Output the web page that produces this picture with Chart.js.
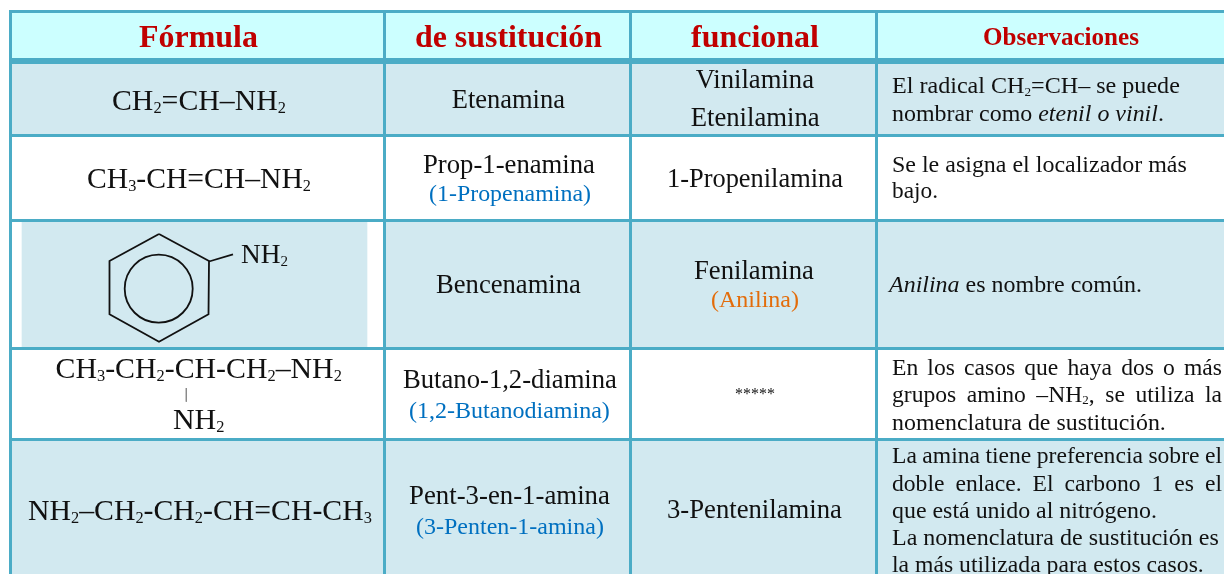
<!DOCTYPE html>
<html lang="es">
<head>
<meta charset="utf-8">
<title>Nomenclatura de aminas</title>
<style>
  html, body { margin: 0; padding: 0; background: #fff; overflow: hidden; }
  canvas { display: block; }
</style>
<script src="https://cdn.jsdelivr.net/npm/chart.js@4"></script>
</head>
<body>
<canvas id="tabla" width="1224" height="574"></canvas>
<script>
/* global Chart */
// ── Tabla de aminas dibujada sobre ejes lineales de Chart.js ──

// Bordes de la tabla, en unidades de los ejes
const colEdges = [10.5, 384.5, 630.5, 877];
const rowEdges = [11.5, 61, 135.5, 220.5, 348.5, 439.5, 574];
const headerEdge = 61;

// Marcas: bandas de color de cada fila
const bandRow = [0, 1, 3, 3, 5];
const bandFrom = [10.5, 10.5, 22, 384.5, 10.5];
const bandTo = [1224, 1224, 367, 1224, 1224];

// Anillo de benceno
const ringX = [159, 209, 208.5, 159, 109.5, 109.5, 159];
const ringY = [234, 261, 314.3, 341.7, 314.3, 261, 234];
const ringCenterX = [158.7];
const ringCenterY = [288.7];
const bondX = [209, 233];
const bondY = [261.5, 254.3];
const branchX = [186.3, 186.3];
const branchY = [388, 401.7];

// Textos. _n = subíndice, *x* = cursiva
const headers = ['Fórmula', 'de sustitución', 'funcional', 'Observaciones'];
const formulas = ['CH_2=CH–NH_2', 'CH_3-CH=CH–NH_2', 'NH_2', 'CH_3-CH_2-CH-CH_2–NH_2', 'NH_2', 'NH_2–CH_2-CH_2-CH=CH-CH_3'];
const sustitucion = ['Etenamina', 'Prop-1-enamina', 'Bencenamina', 'Butano-1,2-diamina', 'Pent-3-en-1-amina'];
const sustitucionAlt = ['(1-Propenamina)', '(1,2-Butanodiamina)', '(3-Penten-1-amina)'];
const funcional = ['Vinilamina', 'Etenilamina', '1-Propenilamina', 'Fenilamina', '3-Pentenilamina'];
const funcionalAlt = ['(Anilina)'];
const sinNombre = ['*****'];
const observaciones = [
  'El radical CH_2=CH– se puede',
  'nombrar como *etenil o vinil*.',
  'Se le asigna el localizador más',
  'bajo.',
  '*Anilina* es nombre común.',
  'En los casos que haya dos o más',
  'grupos amino –NH_2, se utiliza la',
  'nomenclatura de sustitución.',
  'La amina tiene preferencia sobre el',
  'doble enlace. El carbono 1 es el',
  'que está unido al nitrógeno.',
  'La nomenclatura de sustitución es',
  'la más utilizada para estos casos.',
];

const BORDER = '#4BACC6';
const HEADER_BG = '#CCFFFF';
const ROW_BG = '#D2E9F0';
const INK = '#111111';
const RED = '#C00000';
const BLUE = '#0070C0';
const ORANGE = '#E36C0A';
const FONT = '"Liberation Serif", "Times New Roman", serif';

const bandColors = [HEADER_BG, ROW_BG, ROW_BG, ROW_BG, ROW_BG];

// Colocación de cada línea: texto, x0, x1, línea base, color, negrita, tamaño si va justificada
const layout = [
  [headers[0], 139, 258, 47, RED, true],
  [headers[1], 415, 602, 47, RED, true],
  [headers[2], 691, 819, 47, RED, true],
  [headers[3], 983, 1139, 45, RED, true],

  [formulas[0], 112, 286, 110, INK],
  [formulas[1], 87, 311, 188, INK],
  [formulas[2], 241, 288, 263, INK],
  [formulas[3], 55.5, 342, 378, INK],
  [formulas[4], 173, 224.5, 429, INK],
  [formulas[5], 28, 372, 520, INK],

  [sustitucion[0], 451.7, 565, 108, INK],
  [sustitucion[1], 423, 595, 172.7, INK],
  [sustitucionAlt[0], 429, 591, 201, BLUE],
  [sustitucion[2], 436, 581, 292.7, INK],
  [sustitucion[3], 403, 617, 388.3, INK],
  [sustitucionAlt[1], 409, 610, 418.3, BLUE],
  [sustitucion[4], 409, 610, 504.3, INK],
  [sustitucionAlt[2], 416, 604, 534.3, BLUE],

  [funcional[0], 695.7, 814, 87.7, INK],
  [funcional[1], 690.7, 819.7, 126, INK],
  [funcional[2], 667, 843, 186.7, INK],
  [funcional[3], 694, 814, 279, INK],
  [funcionalAlt[0], 711, 799, 307.3, ORANGE],
  [sinNombre[0], 735, 775, 398.5, INK],
  [funcional[4], 667, 842, 518.3, INK],

  [observaciones[0], 892, 1180, 93, INK],
  [observaciones[1], 892, 1164, 120.7, INK],
  [observaciones[2], 892, 1187, 171.7, INK],
  [observaciones[3], 892, 938, 198, INK],
  [observaciones[4], 889, 1142, 292, INK],
  [observaciones[5], 892, 1222, 375, INK, false, 23.6],
  [observaciones[6], 892, 1222, 401.7, INK, false, 23.6],
  [observaciones[7], 892, 1166, 430, INK],
  [observaciones[8], 892, 1222, 463, INK, false, 23.6],
  [observaciones[9], 892, 1222, 490.7, INK, false, 23.6],
  [observaciones[10], 892, 1157, 518.3, INK],
  [observaciones[11], 892, 1219, 545, INK],
  [observaciones[12], 892, 1204, 571.7, INK],
];

// Separa "CH_2 *x*" en tramos normales, subíndices y cursivas
function splitRuns(text) {
  const runs = [];
  text.split(/(\*[^*]+\*|_\d)/).forEach((part) => {
    if (!part) return;
    if (part[0] === '_') runs.push({ text: part.slice(1), sub: true });
    else if (part[0] === '*') runs.push({ text: part.slice(1, -1), italic: true });
    else runs.push({ text: part });
  });
  return runs;
}

function runFont(run, size, bold) {
  const px = run.sub ? size * 0.55 : size;
  return `${run.italic ? 'italic ' : ''}${bold ? 'bold ' : ''}${px}px ${FONT}`;
}

// Ancho natural de la línea a un tamaño dado
function measureRuns(ctx, runs, size, bold) {
  return runs.reduce((sum, run) => {
    ctx.font = runFont(run, size, bold);
    return sum + ctx.measureText(run.text).width;
  }, 0);
}

function drawLine(ctx, scales, line) {
  const [text, x0, x1, base, color, bold, justifiedSize] = line;
  const runs = text === '*****' ? [{ text }] : splitRuns(text);
  const left = scales.x.getPixelForValue(x0);
  const right = scales.x.getPixelForValue(x1);
  const y = scales.y.getPixelForValue(base);

  ctx.wordSpacing = '0px';
  let size = justifiedSize || 20;
  if (justifiedSize) {
    const gaps = runs.reduce((n, run) => n + (run.text.match(/ /g) || []).length, 0);
    ctx.wordSpacing = `${(right - left - measureRuns(ctx, runs, size, bold)) / gaps}px`;
  } else {
    size *= (right - left) / measureRuns(ctx, runs, size, bold);
  }

  let x = left;
  ctx.fillStyle = color;
  ctx.textAlign = 'left';
  ctx.textBaseline = 'alphabetic';
  runs.forEach((run) => {
    ctx.font = runFont(run, size, bold);
    ctx.fillText(run.text, x, run.sub ? y + size * 0.11 : y);
    x += ctx.measureText(run.text).width;
  });
}

const cellText = {
  id: 'cellText',
  afterDraw(chart) {
    const { ctx, scales } = chart;
    ctx.save();
    layout.forEach((line) => drawLine(ctx, scales, line));
    ctx.restore();
  },
};

// Cada banda lleva el grosor de su fila
const bands = bandRow.map((row, i) => ({
  type: 'bar',
  indexAxis: 'y',
  grouped: false,
  order: 10,
  data: [{ x: [bandFrom[i], bandTo[i]], y: (rowEdges[row] + rowEdges[row + 1]) / 2 }],
  barThickness: rowEdges[row + 1] - rowEdges[row],
  backgroundColor: bandColors[i],
  borderWidth: 0,
}));

const pairs = (xs, ys) => xs.map((x, i) => ({ x, y: ys[i] }));
const strokeLine = (xs, ys, width, color) => ({
  type: 'line',
  order: 1,
  data: pairs(xs, ys),
  borderColor: color,
  borderWidth: width,
  pointRadius: 0,
  tension: 0,
  fill: false,
  borderJoinStyle: 'miter',
});

new Chart(document.getElementById('tabla').getContext('2d'), {
  type: 'bar',
  plugins: [cellText],
  data: {
    datasets: [
      ...bands,
      strokeLine(ringX, ringY, 1.8, '#111111'),
      strokeLine(bondX, bondY, 1.8, '#111111'),
      strokeLine(branchX, branchY, 1, '#8a8a8a'),
      {
        type: 'scatter',
        order: 1,
        data: pairs(ringCenterX, ringCenterY),
        pointStyle: 'circle',
        pointRadius: 34,
        pointBorderWidth: 1.8,
        pointBorderColor: '#111111',
        pointBackgroundColor: 'rgba(0,0,0,0)',
      },
    ],
  },
  options: {
    responsive: false,
    animation: false,
    layout: { autoPadding: false, padding: { left: 9, top: 10, right: 0, bottom: 0 } },
    plugins: { legend: { display: false }, tooltip: { enabled: false } },
    events: [],
    scales: {
      x: {
        type: 'linear',
        min: 9,
        max: 1224,
        offset: false,
        afterBuildTicks: (axis) => { axis.ticks = colEdges.map((value) => ({ value })); },
        ticks: { display: false },
        border: { display: false },
        grid: { offset: false, z: 1, color: BORDER, lineWidth: 3, drawTicks: false },
      },
      y: {
        type: 'linear',
        reverse: true,
        min: 10,
        max: 574,
        offset: false,
        afterBuildTicks: (axis) => { axis.ticks = rowEdges.slice(0, -1).map((value) => ({ value })); },
        ticks: { display: false },
        border: { display: false },
        grid: {
          offset: false,
          z: 1,
          color: BORDER,
          lineWidth: (c) => (c.tick && c.tick.value === headerEdge ? 6 : 3),
          drawTicks: false,
        },
      },
    },
  },
});
</script>
</body>
</html>
